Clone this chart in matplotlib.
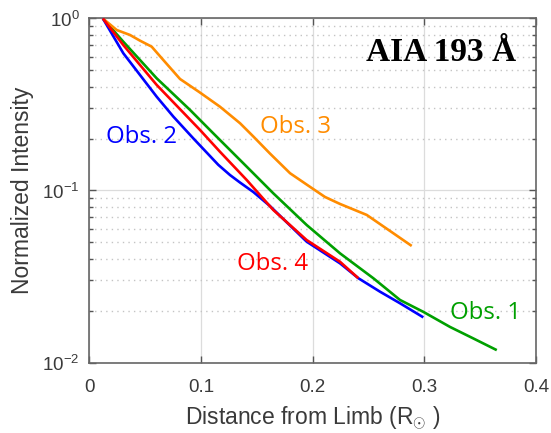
import matplotlib
matplotlib.use("Agg")
import matplotlib.pyplot as plt
from matplotlib.ticker import LogLocator, NullFormatter

# Radial intensity profiles (normalized) vs distance from the limb
obs1_x = [0.012, 0.0303, 0.0602, 0.0901, 0.1109, 0.1409, 0.1647, 0.1946, 0.2245,
          0.2543, 0.2782, 0.2991, 0.3230, 0.3439, 0.3649]
obs1_y = [1.0, 0.733, 0.449, 0.294, 0.215, 0.1375, 0.0963, 0.063, 0.0431,
          0.0309, 0.0231, 0.0197, 0.0161, 0.0138, 0.0118]

obs2_x = [0.012, 0.0303, 0.0453, 0.0602, 0.0751, 0.0930, 0.1154, 0.1259, 0.1349,
          0.1468, 0.1617, 0.1946, 0.2245, 0.2409, 0.2603, 0.2782, 0.2991]
obs2_y = [1.0, 0.628, 0.469, 0.351, 0.269, 0.201, 0.141, 0.123, 0.1112,
          0.098, 0.0812, 0.0504, 0.0377, 0.0309, 0.0258, 0.0221, 0.0183]

obs3_x = [0.012, 0.0244, 0.0363, 0.0453, 0.0557, 0.0661, 0.0811, 0.0990, 0.1169,
          0.1349, 0.1468, 0.1617, 0.1797, 0.1976, 0.2110, 0.2245, 0.2484, 0.2692, 0.2887]
obs3_y = [1.0, 0.857, 0.802, 0.743, 0.686, 0.574, 0.445, 0.371, 0.307,
          0.246, 0.206, 0.164, 0.126, 0.105, 0.0917, 0.0835, 0.0721, 0.0582, 0.0476]

obs4_x = [0.012, 0.0303, 0.0602, 0.0811, 0.0990, 0.1169, 0.1409, 0.1647, 0.1946,
          0.2245, 0.2409]
obs4_y = [1.0, 0.701, 0.411, 0.297, 0.225, 0.168, 0.115, 0.077, 0.0515,
          0.0385, 0.0309]

series_names = ["Obs. 1", "Obs. 2", "Obs. 3", "Obs. 4"]
x_ticks = [0, 0.1, 0.2, 0.3, 0.4]
x_tick_labels = ["0", "0.1", "0.2", "0.3", "0.4"]

GREEN = "#00a000"
BLUE = "#0000ff"
ORANGE = "#ff8c00"
RED = "#ff0000"
TEXT_GREY = "#3a3a3a"

plt.rcParams["font.family"] = ["Liberation Sans", "DejaVu Sans"]
plt.rcParams["mathtext.fontset"] = "custom"
plt.rcParams["mathtext.rm"] = "Liberation Sans"
plt.rcParams["mathtext.it"] = "Liberation Sans:italic"
plt.rcParams["mathtext.bf"] = "Liberation Sans:bold"

fig = plt.figure(figsize=(5.51, 4.33), dpi=100)
ax = fig.add_axes([0.1624, 0.1628, 0.8103, 0.7945])

lw = 1.9
line_style = dict(lw=lw, solid_joinstyle="round", solid_capstyle="butt")
ax.plot(obs1_x, obs1_y, color=GREEN, zorder=3, **line_style)
ax.plot(obs3_x, obs3_y, color=ORANGE, zorder=3, **line_style)
ax.plot(obs2_x, obs2_y, color=BLUE, zorder=4, **line_style)
ax.plot(obs4_x, obs4_y, color=RED, zorder=5, **line_style)

ax.set_yscale("log")
ax.set_xlim(0, 0.4)
ax.set_ylim(1e-2, 1)
ax.set_xticks(x_ticks)
ax.set_xticklabels(x_tick_labels)
ax.yaxis.set_major_locator(LogLocator(base=10, numticks=5))
ax.yaxis.set_minor_locator(LogLocator(base=10, subs=range(2, 10), numticks=20))
ax.yaxis.set_minor_formatter(NullFormatter())

# Grid: solid major lines, dotted minor lines on the log axis
ax.grid(True, which="major", color="#dcdcdc", lw=0.9, ls="-", zorder=0)
ax.grid(True, which="minor", axis="y", color="#c4c4c4", lw=1.0, ls=(0, (1, 3)), zorder=0)

ax.tick_params(which="both", direction="in", top=True, right=True,
               colors="#555555", labelcolor=TEXT_GREY)
ax.tick_params(which="major", length=5, width=1.0, labelsize=13.5)
ax.tick_params(which="minor", length=3, width=1.0)
ax.tick_params(axis="x", which="major", pad=12)
ax.tick_params(axis="y", which="major", pad=7)
for s in ax.spines.values():
    s.set_color("#666666")
    s.set_linewidth(1.2)

ax.set_xlabel(r"Distance from Limb (R$_{\odot}$ )", fontsize=16.5, color=TEXT_GREY)
ax.set_ylabel("Normalized Intensity", fontsize=16.5, color=TEXT_GREY)
ax.xaxis.set_label_coords(0.5, -0.161)
ax.xaxis.label.set_va("center")
ax.yaxis.set_label_coords(-0.151, 0.5)
ax.yaxis.label.set_va("center")

lab_font = dict(family=["Open Sans", "DejaVu Sans"], fontsize=17.3, va="baseline", ha="left")
ax.text(0.3230, 0.0179, series_names[0], color=GREEN, **lab_font)
ax.text(0.0148, 0.188, series_names[1], color=BLUE, **lab_font)
ax.text(0.1528, 0.215, series_names[2], color=ORANGE, **lab_font)
ax.text(0.1324, 0.0345, series_names[3], color=RED, **lab_font)

ax.text(0.315, 0.566, "AIA 193 Å", family=["Liberation Serif", "DejaVu Serif"],
        fontweight="bold", fontsize=24, ha="center", va="baseline", color="black")

fig.savefig("out.png", dpi=100)
